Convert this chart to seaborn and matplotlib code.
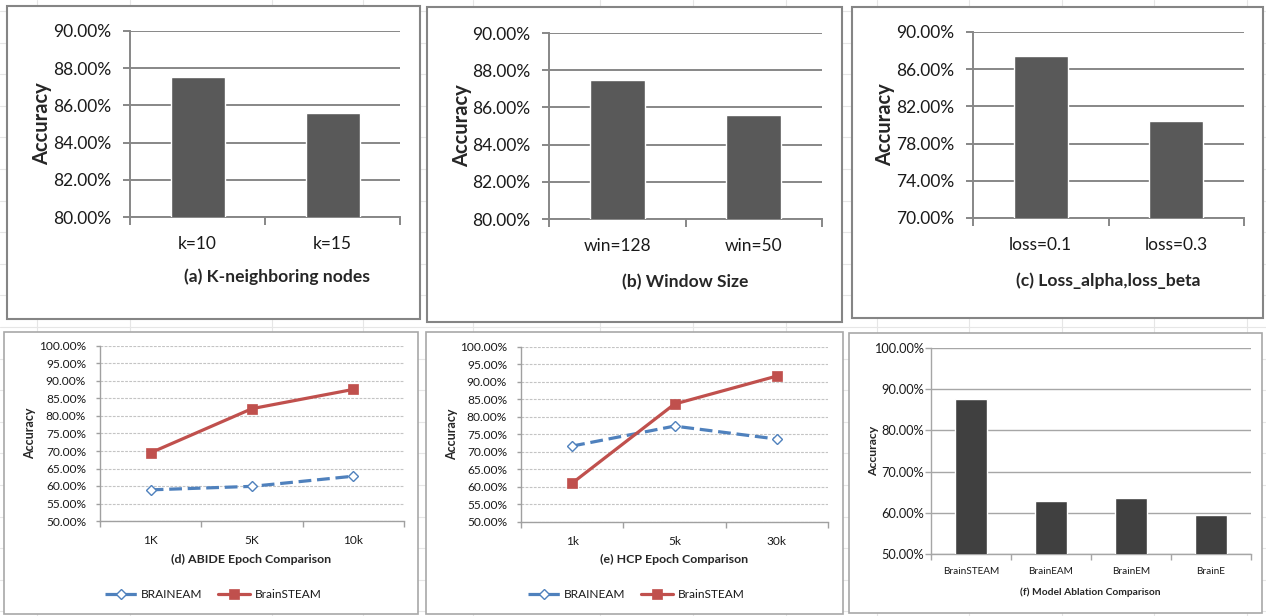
import numpy as np
import pandas as pd
import matplotlib
matplotlib.use("Agg")
import matplotlib.pyplot as plt
import seaborn as sns
from matplotlib.patches import Rectangle
from matplotlib.lines import Line2D
from matplotlib.ticker import FuncFormatter, FixedLocator

# ---------------- data ----------------
k_cats = ["k=10", "k=15"]
k_acc = [87.5, 85.6]

win_cats = ["win=128", "win=50"]
win_acc = [87.5, 85.6]

loss_cats = ["loss=0.1", "loss=0.3"]
loss_acc = [87.45, 80.4]

abide_epochs = ["1K", "5K", "10k"]
abide_braineam = [58.9, 59.9, 62.8]
abide_brainsteam = [69.5, 82.1, 87.6]

hcp_epochs = ["1k", "5k", "30k"]
hcp_braineam = [71.7, 77.4, 73.7]
hcp_brainsteam = [61.1, 83.7, 91.7]

ablation_models = ["BrainSTEAM", "BrainEAM", "BrainEM", "BrainE"]
ablation_acc = [87.6, 62.9, 63.7, 59.5]

# ---------------- style ----------------
sns.set_theme(style="white")
plt.rcParams["font.family"] = ["Lato", "DejaVu Sans"]
plt.rcParams["text.color"] = "#1a1a1a"

W, H = 1266, 616
fig = plt.figure(figsize=(W / 100, H / 100), dpi=100)
fig.patch.set_facecolor("white")


def box(L, T, R, B):
    return [L / W, 1 - B / H, (R - L) / W, (B - T) / H]


def fx(x):
    return x / W


def fy(y):
    return 1 - y / H


# faint worksheet cell lines behind the chart frames
for x in [37, 130, 272, 363, 473, 600, 693, 786, 877, 969, 1062, 1154, 1247]:
    fig.add_artist(Line2D([fx(x), fx(x)], [0, 1], color="#e6e6e6", lw=0.8, zorder=-3))
for y in np.arange(11, H, 31.6):
    fig.add_artist(Line2D([0, 1], [fy(y), fy(y)], color="#e6e6e6", lw=0.8, zorder=-3))

# chart frames
frames = [
    ((7, 6, 420, 319), "#858585", 1.5),
    ((427, 7, 842, 322), "#858585", 1.5),
    ((852, 7, 1263, 318), "#858585", 1.5),
    ((4, 332, 418, 614), "#a8a8a8", 1.2),
    ((426, 332, 843, 614), "#a8a8a8", 1.2),
    ((849, 333, 1262, 613), "#a8a8a8", 1.2),
]
for (L, T, R, B), ec, lw in frames:
    fig.add_artist(Rectangle((fx(L), fy(B)), (R - L) / W, (B - T) / H,
                             transform=fig.transFigure, facecolor="white",
                             edgecolor=ec, lw=lw, zorder=-1))

pct = FuncFormatter(lambda v, _: f"{v:.2f}%")


def style_axes(ax, ncat, axis_color, axis_lw, ytick_len, xtick_len, ylo, yhi, step,
               tick_size, xtick_size, ypad, xpad):
    for s in ["top", "right"]:
        ax.spines[s].set_visible(False)
    for s in ["left", "bottom"]:
        ax.spines[s].set_color(axis_color)
        ax.spines[s].set_linewidth(axis_lw)
    ax.set_xlim(-0.5, ncat - 0.5)
    ax.set_ylim(ylo, yhi)
    ax.yaxis.set_major_locator(FixedLocator(np.arange(ylo, yhi + step / 2, step)))
    ax.yaxis.set_major_formatter(pct)
    ax.xaxis.set_minor_locator(FixedLocator(np.arange(-0.5, ncat, 1.0)))
    ax.tick_params(axis="y", which="major", left=True, length=ytick_len,
                   width=axis_lw, color=axis_color, labelsize=tick_size,
                   labelcolor="#1a1a1a", pad=ypad)
    ax.tick_params(axis="x", which="major", bottom=False, length=0,
                   labelsize=xtick_size, labelcolor="#1a1a1a", pad=xpad)
    ax.tick_params(axis="x", which="minor", bottom=True, length=xtick_len,
                   width=axis_lw, color=axis_color)
    ax.set_facecolor("none")


def bar_panel(rect, cats, vals, ylo, yhi, step, title, title_pos, ylab_x, color,
              grid_color, grid_lw, tick_size, xtick_size, title_size, ylab_size,
              ytick_len, xtick_len, ypad, xpad):
    L, T, R, B = rect
    ax = fig.add_axes(box(L, T, R, B))
    sns.barplot(x=cats, y=vals, color=color, saturation=1, width=0.4, ax=ax, zorder=3)
    style_axes(ax, len(cats), grid_color, grid_lw, ytick_len, xtick_len, ylo, yhi,
               step, tick_size, xtick_size, ypad, xpad)
    ax.yaxis.grid(True, color=grid_color, lw=grid_lw)
    ax.xaxis.grid(False)
    ax.set_axisbelow(True)
    ax.set_ylabel("Accuracy", fontsize=ylab_size, fontweight="bold", va="center")
    ax.yaxis.set_label_coords((ylab_x - L) / (R - L), 0.5)
    ax.set_xlabel(title, fontsize=title_size, fontweight="bold", va="center")
    ax.xaxis.set_label_coords((title_pos[0] - L) / (R - L), (B - title_pos[1]) / (B - T))
    return ax


def line_panel(rect, cats, s_eam, s_steam, title, title_pos, ylab_x, legend_pos):
    L, T, R, B = rect
    ax = fig.add_axes(box(L, T, R, B))
    df = pd.DataFrame({"epoch": cats * 2,
                       "acc": list(s_eam) + list(s_steam),
                       "model": ["BRAINEAM"] * len(cats) + ["BrainSTEAM"] * len(cats)})
    blue, red = "#4f81bd", "#c0504d"
    sns.lineplot(data=df[df.model == "BRAINEAM"], x="epoch", y="acc", sort=False,
                 color=blue, lw=2.3, linestyle=(0, (4, 1.8)), marker="D",
                 markersize=5.2, mfc="white", mec=blue, mew=1.0,
                 label="BRAINEAM", ax=ax, zorder=3)
    sns.lineplot(data=df[df.model == "BrainSTEAM"], x="epoch", y="acc", sort=False,
                 color=red, lw=2.3, marker="s", markersize=6.6, mfc=red, mec=red,
                 mew=0.5, label="BrainSTEAM", ax=ax, zorder=4)
    style_axes(ax, len(cats), "#a0a0a0", 1.0, 3, 4, 50, 100, 5, 8.6, 8.6, 7, 10)
    ax.yaxis.grid(True, color="#c4c4c4", lw=0.8, linestyle=(0, (2.5, 1.2)))
    ax.xaxis.grid(False)
    ax.set_axisbelow(True)
    ax.set_ylabel("Accuracy", fontsize=9, fontweight="bold", va="center")
    ax.yaxis.set_label_coords((ylab_x - L) / (R - L), 0.5)
    ax.set_xlabel(title, fontsize=8.9, fontweight="bold", va="center")
    ax.xaxis.set_label_coords((title_pos[0] - L) / (R - L), (B - title_pos[1]) / (B - T))
    ax.legend(loc="center", bbox_to_anchor=((legend_pos[0] - L) / (R - L),
                                            (B - legend_pos[1]) / (B - T)),
              ncol=2, frameon=False, fontsize=8.6, handlelength=2.7,
              handletextpad=0.35, columnspacing=1.3, numpoints=1)
    return ax


# (a) – (c): parameter sensitivity bars
top_kw = dict(color="#595959", grid_color="#878787", grid_lw=1.4, tick_size=12.5,
              xtick_size=12.5, title_size=12.6, ylab_size=14.5, ytick_len=5,
              xtick_len=6, ypad=8.5, xpad=14)
bar_panel((130, 31, 400, 217), k_cats, k_acc, 80, 90, 2, "(a) K-neighboring nodes",
          (277, 277), 42, **top_kw)
bar_panel((549, 33, 822, 219), win_cats, win_acc, 80, 90, 2, "(b) Window Size",
          (685, 282), 462, **top_kw)
bar_panel((973, 32, 1244, 218), loss_cats, loss_acc, 70, 90, 4,
          "(c) Loss_alpha,loss_beta", (1108, 281), 885, **top_kw)

# (d), (e): epoch comparison lines
line_panel((100, 346, 404, 521), abide_epochs, abide_braineam, abide_brainsteam,
           "(d) ABIDE Epoch Comparison", (251, 559), 30, (213, 595))
line_panel((521, 347, 828, 522), hcp_epochs, hcp_braineam, hcp_brainsteam,
           "(e) HCP Epoch Comparison", (674, 559), 452, (636, 595))

# (f): ablation bars
bar_panel((931, 348, 1251, 554), ablation_models, ablation_acc, 50, 100, 10,
          "(f) Model Ablation Comparison", (1090, 592), 874, color="#404040",
          grid_color="#a6a6a6", grid_lw=1.0, tick_size=9.2, xtick_size=7.2,
          title_size=7.4, ylab_size=8.8, ytick_len=4, xtick_len=4, ypad=1, xpad=9)

fig.savefig("out.png", dpi=100, facecolor="white")
